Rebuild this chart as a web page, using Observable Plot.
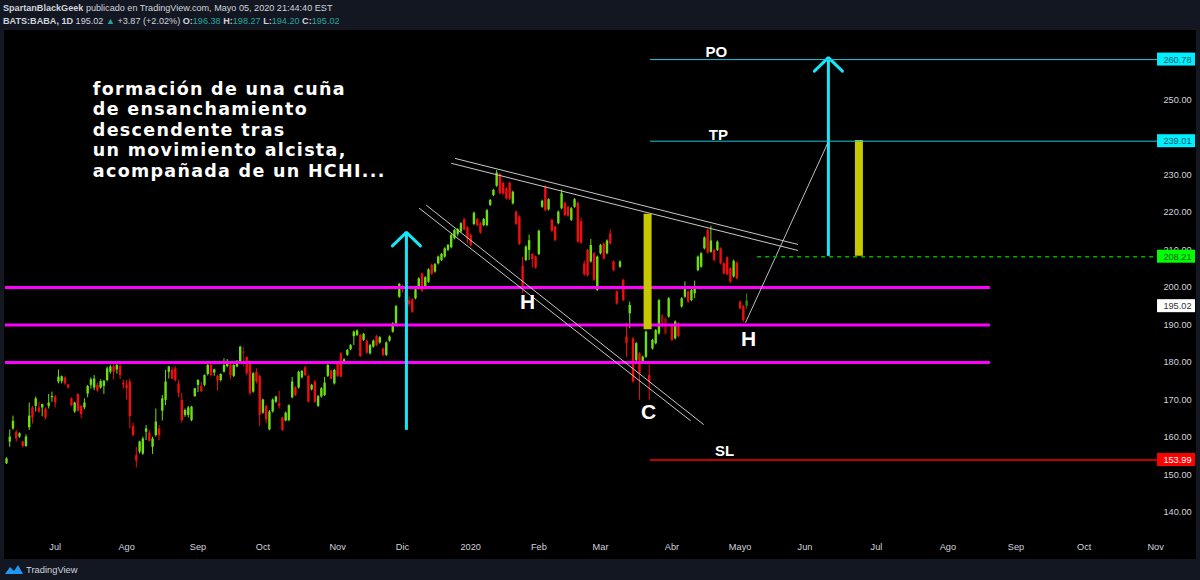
<!DOCTYPE html>
<html><head><meta charset="utf-8">
<script src="https://cdn.jsdelivr.net/npm/d3@7"></script>
<script src="https://cdn.jsdelivr.net/npm/@observablehq/plot@0.6"></script>
<style>
html,body{margin:0;padding:0;background:#131722;width:1200px;height:580px;overflow:hidden;}
#hdr{position:absolute;left:0;top:0;width:1200px;height:30px;box-sizing:border-box;padding:2px 0 0 3px;color:#d1d4dc;font-family:"Liberation Sans",Arial,sans-serif;font-size:9.1px;line-height:12.5px;white-space:nowrap;}
#hdr .t{color:#26a69a}
#chart{position:absolute;left:4px;top:30px;width:1192px;height:529px;}
#ftr{position:absolute;left:5px;top:559px;height:21px;display:flex;align-items:center;color:#d1d4dc;font-family:"Liberation Sans",Arial,sans-serif;font-size:9.4px;}
#ftr svg{margin-right:3px}
</style></head>
<body>
<div id="hdr"><div><b>SpartanBlackGeek</b> publicado en TradingView.com, Mayo 05, 2020 21:44:40 EST</div>
<div><b>BATS:BABA, 1D</b> 195.02 <span class="t">▲</span> +3.87 (+2.02%) <b>O:</b><span class="t">196.38</span> <b>H:</b><span class="t">198.27</span> <b>L:</b><span class="t">194.20</span> <b>C:</b><span class="t">195.02</span></div></div>
<div id="chart"></div>
<div id="ftr"><svg width="18" height="11" viewBox="0 0 18 11"><path d="M0 10 L5 3 L9 7 L13 1 L18 10 Z" fill="#2196f3"/></svg>TradingView</div>
<script>
// ---- Data (daily candles, BATS:BABA) ----
const opens  = [153.0,158.8,162.3,161.4,160.1,158.8,157.6,162.6,167.9,168.3,167.9,167.9,167.6,168.3,170.6,170.8,174.8,174.9,175.9,174.0,170.3,166.8,171.5,168.3,167.9,171.6,173.9,173.2,173.9,173.2,173.6,175.2,177.4,178.9,178.0,178.9,174.5,174.0,174.8,162.9,155.2,156.1,155.6,161.4,161.2,157.4,160.5,162.3,167.0,169.9,177.4,177.9,178.3,174.3,169.9,165.9,165.9,164.5,170.9,173.9,173.6,173.9,176.8,179.2,177.2,176.3,175.2,177.4,178.9,179.2,176.3,178.8,180.1,182.3,181.4,179.5,172.1,177.4,176.3,166.5,168.3,162.0,166.8,169.4,169.0,165.2,164.4,164.5,170.6,173.2,173.2,175.9,178.6,176.3,172.7,174.8,168.3,170.8,171.2,176.3,177.7,174.3,179.6,182.3,180.1,181.9,183.4,186.9,187.2,187.2,185.9,185.7,182.3,184.1,186.9,185.2,183.6,181.9,185.7,188.1,190.3,197.4,200.3,198.8,196.4,196.7,197.0,199.6,203.6,200.1,201.4,205.9,204.1,206.3,207.2,208.1,209.9,210.6,213.0,214.1,214.8,218.1,215.9,213.9,216.8,218.1,217.0,216.5,216.5,221.9,224.5,227.0,230.1,227.8,226.3,227.8,222.3,220.1,218.8,205.6,207.2,209.9,208.8,208.1,208.8,221.4,226.8,220.7,217.9,216.1,217.0,221.0,222.5,221.4,217.9,221.4,222.5,217.5,206.3,209.9,206.8,209.0,199.2,209.0,211.6,209.0,214.3,206.8,198.8,205.4,201.9,186.8,193.0,186.3,180.5,182.3,180.1,181.4,176.5,183.6,185.0,187.6,189.4,187.6,192.1,189.6,186.3,190.3,194.8,197.4,198.8,196.5,198.3,204.5,205.4,210.3,215.2,209.4,209.9,209.9,210.3,206.3,207.9,205.0,202.8,206.5,196.1,194.9,196.38];
const highs  = [154.6,162.0,165.7,161.9,161.2,159.0,160.7,169.2,168.3,170.8,169.4,168.9,167.9,171.5,172.1,171.2,178.0,176.4,176.1,174.1,170.6,169.4,171.6,168.5,170.3,173.9,175.9,176.5,174.5,175.4,175.2,178.8,179.3,179.4,179.6,179.6,175.2,175.2,175.6,163.8,157.4,159.0,160.1,163.2,161.9,160.1,167.6,163.2,171.2,177.9,179.0,178.6,178.8,175.2,171.8,167.6,168.3,168.3,173.1,175.4,174.7,176.7,179.5,179.5,178.2,176.6,177.0,181.0,180.8,179.6,179.4,180.5,184.3,184.1,181.4,179.6,177.3,178.3,176.6,170.2,168.5,167.2,170.3,171.0,172.3,165.4,166.8,168.7,176.0,173.6,177.7,177.9,179.0,176.6,174.2,175.2,171.2,173.3,176.0,179.5,178.0,178.2,180.1,182.6,181.0,183.5,184.8,188.4,188.7,187.5,187.8,186.0,184.8,186.0,187.2,186.9,183.9,185.5,187.1,190.6,195.2,201.1,200.6,199.1,197.5,197.0,199.7,202.6,203.9,202.9,205.0,206.2,206.4,208.4,209.1,210.6,211.5,214.2,215.5,215.7,217.3,218.4,216.2,214.3,220.1,218.4,217.3,218.4,220.8,223.5,226.2,231.2,230.4,228.1,226.6,228.1,225.7,220.4,219.1,208.1,211.1,214.0,209.0,208.4,215.3,223.3,227.1,223.7,218.2,216.4,220.4,226.0,222.8,221.7,221.3,223.7,222.8,218.5,207.0,210.2,212.8,209.3,208.4,211.5,211.9,212.7,215.4,207.1,199.1,207.1,202.2,190.5,196.1,186.6,185.3,182.6,181.7,188.4,179.3,186.2,188.8,196.8,192.8,191.9,197.3,189.9,191.1,190.6,197.3,201.5,199.1,199.5,201.7,208.4,209.3,213.5,215.5,216.3,210.2,212.4,210.6,206.6,208.2,205.3,207.3,206.8,196.4,195.2,198.27];
const lows   = [152.8,157.4,161.9,158.8,159.8,157.2,157.4,161.9,163.6,166.8,166.4,165.5,164.7,167.6,169.4,167.9,174.3,174.3,173.9,172.9,168.2,166.4,166.8,165.0,167.4,170.6,172.9,172.5,172.1,172.9,171.5,174.8,176.9,175.4,176.9,175.4,172.9,170.0,162.3,160.2,151.9,155.6,155.2,159.2,158.8,155.5,160.1,159.2,164.4,168.5,175.6,175.4,174.8,170.6,163.8,165.4,165.2,164.2,170.7,172.0,172.0,173.5,176.4,176.2,176.3,172.4,174.8,177.2,178.6,175.4,176.0,178.6,179.8,178.8,176.5,171.2,171.8,174.3,163.0,166.2,163.6,161.8,166.5,169.1,167.6,161.6,164.2,164.2,170.3,170.9,172.9,175.6,176.3,169.2,172.4,169.1,168.0,170.5,170.9,176.0,175.3,174.0,176.0,176.0,179.8,181.6,183.1,184.5,186.9,181.3,185.6,182.2,182.0,183.8,184.2,184.9,181.6,181.6,185.4,187.8,190.0,197.1,198.5,194.3,194.8,193.1,196.7,199.3,198.7,199.8,201.1,203.2,203.8,206.0,206.9,207.8,209.6,210.3,212.7,213.5,214.5,215.1,211.6,210.8,216.5,216.2,214.2,216.2,216.2,221.6,224.2,226.7,224.7,224.6,223.3,223.2,222.0,216.5,211.2,198.3,206.9,207.2,205.2,204.9,208.5,221.1,220.2,220.4,214.7,212.2,216.7,220.7,218.9,218.7,217.6,221.1,211.8,211.5,203.0,202.8,206.5,201.6,198.9,208.7,207.3,208.7,211.3,204.2,195.3,205.1,196.2,181.4,189.0,174.5,180.2,169.9,179.8,181.1,169.9,183.3,184.7,187.3,189.1,187.3,191.8,185.6,186.0,186.6,194.5,197.1,195.8,196.2,197.0,204.2,205.1,210.0,208.9,209.1,206.9,209.6,206.0,203.3,203.1,201.1,202.5,202.0,194.0,190.7,194.20];
const closes = [154.3,160.1,164.3,159.6,161.0,157.6,160.1,165.7,165.2,170.3,166.8,168.8,165.2,169.2,170.9,169.2,176.1,176.2,174.3,173.2,168.5,169.2,167.0,166.1,169.2,173.6,175.4,175.6,172.4,174.9,175.0,178.3,178.8,177.4,179.2,176.5,174.0,173.0,165.6,160.5,153.7,158.8,159.6,162.3,159.0,159.6,164.1,160.5,170.3,174.8,178.8,175.6,175.2,171.8,164.5,167.2,167.9,168.1,173.0,175.2,172.2,176.5,179.2,176.5,178.0,175.0,176.8,179.2,180.3,176.5,179.2,180.3,184.1,182.8,177.0,171.7,177.0,174.8,165.9,170.0,164.7,166.8,170.0,170.8,168.3,161.9,166.5,168.5,174.8,171.2,177.4,177.6,176.5,169.4,173.9,169.4,170.9,173.0,174.5,179.2,175.6,177.9,176.3,176.1,180.7,183.2,184.5,188.1,188.4,181.6,187.5,182.5,184.5,185.7,184.5,186.6,181.9,185.2,186.8,190.3,194.9,200.8,199.6,196.1,195.5,193.4,199.4,202.3,199.0,202.6,204.7,203.5,206.1,208.1,208.8,210.3,211.2,213.9,215.2,215.4,217.0,215.4,213.0,211.2,219.8,216.5,214.5,218.1,220.5,223.2,225.9,230.5,225.0,224.9,223.6,223.5,225.4,216.8,211.5,199.7,210.8,212.5,207.4,205.2,215.0,223.0,220.5,223.4,215.0,212.5,220.1,225.0,219.2,219.0,221.0,223.4,212.1,211.8,203.4,203.1,211.2,201.9,208.1,211.2,207.6,212.4,211.6,204.5,195.6,206.8,196.5,185.0,195.2,174.8,185.0,177.0,181.4,188.1,174.8,185.9,188.5,196.5,192.5,191.6,197.0,185.9,190.8,186.9,197.0,200.1,196.1,199.2,200.1,208.1,209.0,213.2,209.2,212.4,207.2,212.1,206.3,203.6,203.4,201.4,207.0,202.3,194.3,191.15,195.02];

// time axis (bar index of first session of each month) and labels
const monthTicks  = [15, 37, 59, 79, 102, 122, 143, 164, 183, 205, 226, 246, 268, 290, 311, 332, 354];
const monthLabels = ["Jul","Ago","Sep","Oct","Nov","Dic","2020","Feb","Mar","Abr","Mayo","Jun","Jul","Ago","Sep","Oct","Nov"];
const priceTicks  = [140, 150, 160, 170, 180, 190, 200, 210, 220, 230, 250];

// drawn annotations (bar index, price)
const supportLevels = [200, 190, 180];
const supportSpan   = [-0.3, 303.1];
const targetNames   = ["PO", "TP", "SL"];
const targetPrices  = [260.78, 239.01, 153.99];
const targetSpan    = [198.4, 354.6];
const targetTextX   = [218.7, 219.3, 221.2];
const targetTextY   = [262.7, 240.5, 156.3];
const entryPrice    = 208.21;
const entrySpan     = [231.4, 354.6];
const lastPrice     = 195.02;
const boxSpan       = [354.6, 366.3];
const boxTextX      = 356.4;
const wedgeTop1 = [[138.3, 234.4], [243.7, 211.5]];
const wedgeTop2 = [[137.1, 233.1], [243.7, 209.9]];
const wedgeBot1 = [[129.4, 221.9], [214.7, 163.5]];
const wedgeBot2 = [[127.2, 221.1], [210.7, 164.5]];
const arrowX    = [123.2, 253.2];
const arrowFrom = [161.9, 208.3];
const arrowTo   = [214.7, 261.3];
const heightBarX  = [197.5, 262.6];
const heightBarLo = [188.7, 208.3];
const heightBarHi = [219.5, 239.2];
const projection  = [[227.7, 190.7], [253.2, 238.9]];
const patternLetters = ["H", "C", "H"];
const patternX = [160.5, 197.8, 228.6];
const patternY = [196.0, 166.7, 186.1];
const noteLines = ["formación de una cuña", "de ensanchamiento", "descendente tras", "un movimiento alcista,", "acompañada de un HCHI..."];
const noteX = 26.6;
const noteTop = 255.2;

// ---- build ----
const GREEN = "#6ee012", GREEN_D = "#3f8a0a", RED = "#f20d0d", RED_D = "#a00a0a";
const candles = opens.map((o, i) => {
  const c = closes[i], pc = i ? closes[i - 1] : o;
  const up = c >= pc;
  const agree = up ? c >= o : c < o;
  return {i, o, h: highs[i], l: lows[i], c, col: up ? (agree ? GREEN : GREEN_D) : (agree ? RED : RED_D)};
});
const monthLabel = new Map(monthTicks.map((t, k) => [t, monthLabels[k]]));
const seg = (pts, k) => pts.map(([x, y]) => ({x, y, k}));
const wedges = [...seg(wedgeTop1, 0), ...seg(wedgeTop2, 1), ...seg(wedgeBot1, 2), ...seg(wedgeBot2, 3)];

const yDomain = [135.2, 268.53];
const xDomain = [-0.616, 349.35];
const pxPerUnit = 500 / (yDomain[1] - yDomain[0]);
const pxPerBar = 1136 / (xDomain[1] - xDomain[0]);
const heads = [];
arrowX.forEach((x, k) => {
  const dx = 14 / pxPerBar, dy = 13.5 / pxPerUnit;
  heads.push({x: x - dx, y: arrowTo[k] - dy, k}, {x, y: arrowTo[k], k}, {x: x + dx, y: arrowTo[k] - dy, k});
});
const boxes = [
  {p: targetPrices[0], fill: "#00f0ff", txt: "#0b5566"},
  {p: targetPrices[1], fill: "#00f0ff", txt: "#0b5566"},
  {p: entryPrice, fill: "#00ff00", txt: "#0a5a0a"},
  {p: lastPrice, fill: "#ffffff", txt: "#333333"},
  {p: targetPrices[2], fill: "#ff0000", txt: "#ffffff"}
];
const boxH = 6.5 / pxPerUnit;
const axisFont = "'Liberation Sans',Arial,sans-serif";

const chart = Plot.plot({
  width: 1192, height: 529,
  marginLeft: 0, marginRight: 56, marginTop: 0, marginBottom: 29,
  style: {background: "#000", color: "#d1d4dc", fontSize: "9.2px", fontFamily: axisFont},
  x: {domain: xDomain, ticks: monthTicks, tickFormat: d => monthLabel.get(d), tickSize: 0, tickPadding: 13, label: null},
  y: {domain: yDomain, ticks: priceTicks, tickFormat: d => d.toFixed(2), axis: "right", tickSize: 0, tickPadding: 23, label: null},
  color: {type: "identity"},
  marks: [
    Plot.ruleX(candles, {x: "i", y1: "l", y2: "h", stroke: "col", strokeWidth: 1}),
    Plot.ruleX(candles, {x: "i", y1: "o", y2: "c", stroke: "col", strokeWidth: 2.4}),
    Plot.ruleY(supportLevels, {y: d => d, x1: supportSpan[0], x2: supportSpan[1], stroke: "#ff00ff", strokeWidth: 3}),
    Plot.line(wedges, {x: "x", y: "y", z: "k", stroke: "#c8c8c8", strokeWidth: 1}),
    Plot.ruleX(heightBarX, {x: d => d, y1: (d, k) => heightBarLo[k], y2: (d, k) => heightBarHi[k], stroke: "#c8c800", strokeWidth: 8}),
    Plot.ruleX(arrowX, {x: d => d, y1: (d, k) => arrowFrom[k], y2: (d, k) => arrowTo[k], stroke: "#14e8f8", strokeWidth: 3}),
    Plot.line(heads, {x: "x", y: "y", z: "k", stroke: "#14e8f8", strokeWidth: 3, strokeLinejoin: "miter"}),
    Plot.line(seg(projection, 0), {x: "x", y: "y", stroke: "#bdbdbd", strokeWidth: 1}),
    Plot.ruleY(targetPrices.slice(0, 2), {y: d => d, x1: targetSpan[0], x2: targetSpan[1], stroke: "#19c6d8", strokeWidth: 1}),
    Plot.ruleY([targetPrices[2]], {y: d => d, x1: targetSpan[0], x2: targetSpan[1], stroke: "#ff0000", strokeWidth: 1.5}),
    Plot.ruleY([entryPrice], {y: d => d, x1: entrySpan[0], x2: entrySpan[1], stroke: "#00b000", strokeWidth: 1.5, strokeDasharray: "4,4"}),
    Plot.text(targetNames, {x: (d, k) => targetTextX[k], y: (d, k) => targetTextY[k], text: d => d, fill: "#fff", fontSize: 15, fontWeight: "bold", fontFamily: "Liberation Sans, Arial, sans-serif"}),
    Plot.text(patternLetters, {x: (d, k) => patternX[k], y: (d, k) => patternY[k], text: d => d, fill: "#fff", fontSize: 21, fontWeight: "bold", fontFamily: "Liberation Sans, Arial, sans-serif"}),
    Plot.text([noteLines.join("\n")], {x: noteX, y: noteTop, text: d => d, fill: "#fff", fontSize: 17.5, lineHeight: 1.17, lineAnchor: "top", fontWeight: "bold", textAnchor: "start", fontFamily: "DejaVu Sans, Verdana, sans-serif"}),
    Plot.rect(boxes, {x1: boxSpan[0], x2: boxSpan[1], y1: d => d.p - boxH, y2: d => d.p + boxH, fill: "fill"}),
    Plot.text(boxes, {x: boxTextX, y: "p", text: d => d.p.toFixed(2), fill: "txt", textAnchor: "start", fontSize: 9.2})
  ]
});
// widen the note's tracking slightly to match the original's wide bold lettering
d3.select(chart).selectAll("g[font-family^='DejaVu']").style("letter-spacing", "1.3px");
document.getElementById("chart").appendChild(chart);
</script>
</body></html>
